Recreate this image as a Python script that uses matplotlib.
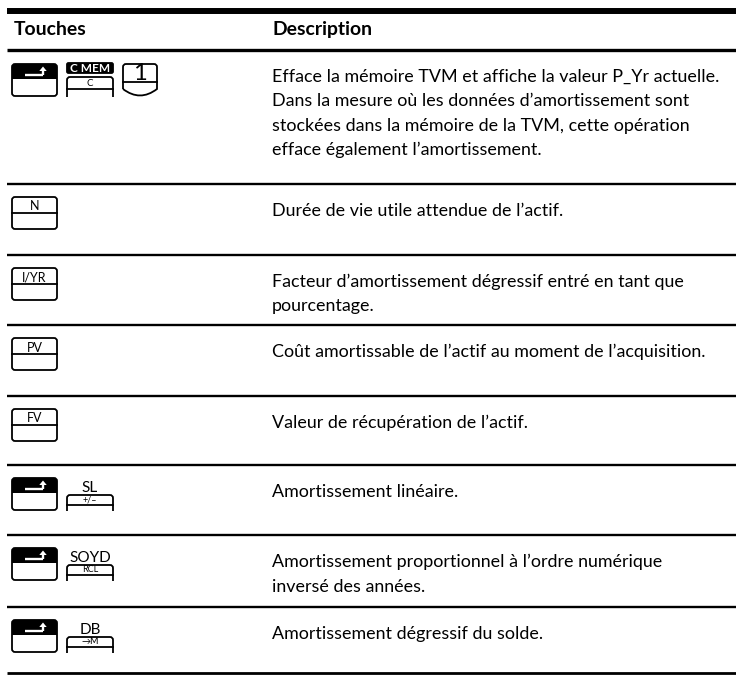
import matplotlib
matplotlib.use("Agg")
import matplotlib.pyplot as plt
from matplotlib.patches import FancyBboxPatch, Rectangle, Polygon, PathPatch
from matplotlib.path import Path

# ---------------- content ----------------
header_keys = "Touches"
header_desc = "Description"

# key sequence for each row: "shift" = shift key, "A|B" = shifted label A over key B,
# "inv:A|B" = inverted label A over key B, "num:1" = number key, otherwise plain key
row_keys = [
    ["shift", "inv:C MEM|C", "num:1"],
    ["N"],
    ["I/YR"],
    ["PV"],
    ["FV"],
    ["shift", "SL|+/–"],
    ["shift", "SOYD|RCL"],
    ["shift", "DB|→M"],
]

descriptions = [
    ["Efface la mémoire TVM et affiche la valeur P_Yr actuelle.",
     "Dans la mesure où les données d’amortissement sont",
     "stockées dans la mémoire de la TVM, cette opération",
     "efface également l’amortissement."],
    ["Durée de vie utile attendue de l’actif."],
    ["Facteur d’amortissement dégressif entré en tant que",
     "pourcentage."],
    ["Coût amortissable de l’actif au moment de l’acquisition."],
    ["Valeur de récupération de l’actif."],
    ["Amortissement linéaire."],
    ["Amortissement proportionnel à l’ordre numérique",
     "inversé des années."],
    ["Amortissement dégressif du solde."],
]

# ---------------- layout ----------------
W, H = 736, 675
header_rule = 50
row_tops = [header_rule, 184, 255, 325, 396, 465, 535, 607]
table_bottom = 673
desc_x = 272
key_x = [12, 67, 123]
FONT = ["Lato", "DejaVu Sans"]

fig = plt.figure(figsize=(W / 100, H / 100), dpi=100)
ax = fig.add_axes([0, 0, 1, 1])
ax.set_xlim(0, W)
ax.set_ylim(H, 0)
ax.axis("off")
renderer = fig.canvas.get_renderer()


def fit_size(text, target_px, weight="normal"):
    t = ax.text(0, 0, text, fontsize=12, family=FONT, weight=weight)
    w = t.get_window_extent(renderer).width
    t.remove()
    return 12 * target_px / w


body_fs = fit_size(descriptions[0][0], 446)
head_fs = fit_size(header_desc, 100, "bold")

# rules
ax.plot([7, W], [11, 11], color="black", lw=4.3, solid_capstyle="butt")
ax.plot([7, W], [header_rule, header_rule], color="black", lw=2.4,
        solid_capstyle="butt")
for y in row_tops[1:]:
    ax.plot([7, W], [y, y], color="black", lw=1.7, solid_capstyle="butt")
ax.plot([7, W], [table_bottom, table_bottom], color="black", lw=2.0,
        solid_capstyle="butt")

# header
ax.text(14, 35, header_keys, fontsize=head_fs, family=FONT, weight="bold",
        va="baseline", ha="left")
ax.text(desc_x, 35, header_desc, fontsize=head_fs, family=FONT, weight="bold",
        va="baseline", ha="left")

# descriptions
for r, (top, lines) in enumerate(zip(row_tops, descriptions)):
    base = top + 32
    for i, line in enumerate(lines):
        ax.text(desc_x, base + 24.5 * i, line, fontsize=body_fs, family=FONT,
                va="baseline", ha="left", color="black")

KW, KH = 45, 32
LW = 1.3


def rounded_box(x, y, w, h, fc="white", r=3, z=2):
    p = FancyBboxPatch((x, y), w, h, boxstyle=f"round,pad=0,rounding_size={r}",
                       fc=fc, ec="black", lw=LW, zorder=z)
    ax.add_patch(p)
    return p


def shift_key(x, y):
    box = rounded_box(x, y, KW, KH)
    blk = Rectangle((x, y), KW, KH / 2 - 1, fc="black", ec="none", zorder=3)
    ax.add_patch(blk)
    blk.set_clip_path(box)
    ax.plot([x + 13, x + 31], [y + 10.5, y + 10.5], color="white", lw=1.7,
            zorder=4, solid_capstyle="butt")
    ax.plot([x + 31, x + 31], [y + 10.5, y + 6], color="white", lw=1.7,
            zorder=4, solid_capstyle="butt")
    ax.add_patch(Polygon([[x + 27.3, y + 7], [x + 34.7, y + 7], [x + 31, y + 2.5]],
                         closed=True, fc="white", ec="none", zorder=4))


def plain_key(x, y, label):
    rounded_box(x, y, KW, KH)
    ax.plot([x, x + KW], [y + KH / 2, y + KH / 2], color="black", lw=LW, zorder=3)
    ax.text(x + KW / 2, y + KH / 2 - 2.5, label, fontsize=9, family=FONT,
            ha="center", va="baseline", zorder=4)


def open_key(x, top, bottom, line_y, w=46, r=3):
    verts = [(x, bottom), (x, top + r), (x, top), (x + r, top), (x + w - r, top),
             (x + w, top), (x + w, top + r), (x + w, bottom)]
    codes = [Path.MOVETO, Path.LINETO, Path.CURVE3, Path.CURVE3, Path.LINETO,
             Path.CURVE3, Path.CURVE3, Path.LINETO]
    ax.add_patch(PathPatch(Path(verts, codes), fc="none", ec="black", lw=LW,
                           zorder=3))
    ax.plot([x, x + w], [line_y, line_y], color="black", lw=LW, zorder=3)


def shifted_key(x, y, top_label, key_label):
    ax.text(x + 23, y + 14, top_label, fontsize=11, family=FONT, ha="center",
            va="baseline", zorder=4)
    open_key(x, y + 17, y + 33, y + 26.5)
    ax.text(x + 23, y + 24.5, key_label, fontsize=6.5, family=FONT,
            ha="center", va="baseline", zorder=4)


def inverted_key(x, y, top_label, key_label):
    rounded_box(x, y - 1, 46, 10, fc="black", r=1.5)
    ax.text(x + 23, y + 7.5, top_label, fontsize=8.5, family=FONT, weight="bold",
            color="white", ha="center", va="baseline", zorder=4)
    open_key(x, y + 13, y + 33, y + 25)
    ax.text(x + 23, y + 22.5, key_label, fontsize=7, family=FONT,
            ha="center", va="baseline", zorder=4)


def number_key(x, y, label, w=34):
    r = 3
    bot_side = y + 25
    verts = [(x, bot_side), (x, y + r), (x, y), (x + r, y), (x + w - r, y),
             (x + w, y), (x + w, y + r), (x + w, bot_side),
             (x + w / 2, y + 38), (x, bot_side)]
    codes = [Path.MOVETO, Path.LINETO, Path.CURVE3, Path.CURVE3, Path.LINETO,
             Path.CURVE3, Path.CURVE3, Path.LINETO, Path.CURVE3, Path.CURVE3]
    ax.add_patch(PathPatch(Path(verts, codes), fc="white", ec="black", lw=LW,
                           zorder=3))
    ax.plot([x, x + w], [y + 18, y + 18], color="black", lw=LW, zorder=3)
    ax.text(x + w / 2, y + 16.5, label, fontsize=17, family=FONT,
            ha="center", va="baseline", zorder=4)


for top, keys in zip(row_tops, row_keys):
    ky = top + 14 if top == header_rule else top + 13
    for i, k in enumerate(keys):
        x = key_x[i]
        if k == "shift":
            shift_key(x, ky)
        elif k.startswith("inv:"):
            a, b = k[4:].split("|")
            inverted_key(x, ky, a, b)
        elif k.startswith("num:"):
            number_key(x, ky, k[4:])
        elif "|" in k:
            a, b = k.split("|")
            shifted_key(x, ky, a, b)
        else:
            plain_key(x, ky, k)

fig.savefig("out.png", dpi=100, facecolor="white")
